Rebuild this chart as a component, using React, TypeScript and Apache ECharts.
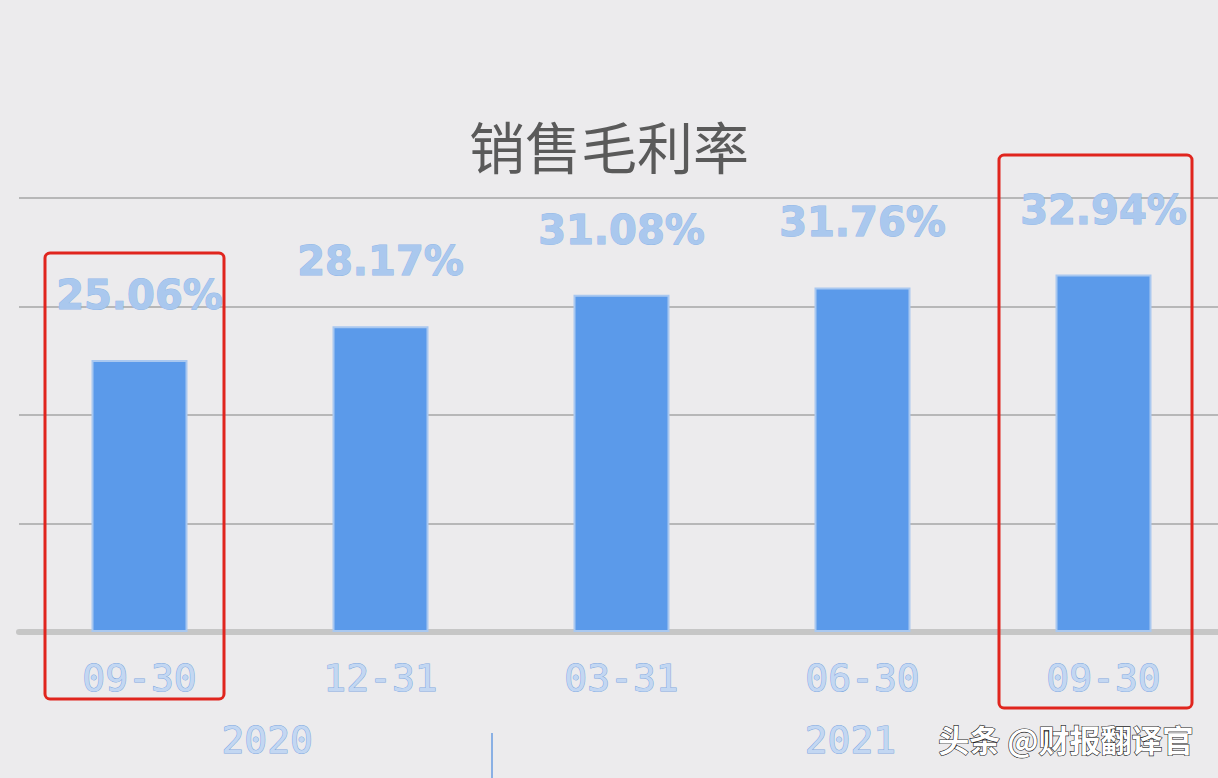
import { useEffect, useRef } from "react";
import * as echarts from "echarts";

const categories = ["09-30", "12-31", "03-31", "06-30", "09-30"];
const margins = [25.06, 28.17, 31.08, 31.76, 32.94];
const years = ["2020", "2021"];
// where the year labels and the divider sit on the 0..5 category scale
const yearPos = [1.03, 3.45];
const dividerPos = [1.96];

const App = () => {
    const chartRef = useRef<HTMLDivElement>(null);

    useEffect(() => {
        if (!chartRef.current) return;
        const chart = echarts.init(chartRef.current, undefined, { renderer: "svg" });

        const axisText = {
            fontFamily: "DejaVu Sans Mono",
            fontSize: 38,
            color: "#C3D7F2",
            textBorderColor: "#7FA8E0",
            textBorderWidth: 1,
        };

        chart.setOption({
            animation: false,
            backgroundColor: "#ECEBED",
            title: {
                text: "销售毛利率",
                left: "center",
                top: 116,
                padding: 0,
                textStyle: {
                    fontFamily: "Noto Sans CJK SC",
                    fontSize: 56,
                    fontWeight: "normal",
                    color: "#5A5A5A",
                },
            },
            grid: {
                left: 19,
                width: 1205,
                top: 198,
                bottom: 146,
                outerBoundsMode: "none",
            },
            xAxis: [
                {
                    type: "category",
                    data: categories,
                    axisLine: { lineStyle: { color: "#C6C6C6", width: 6 } },
                    axisTick: { show: false },
                    axisLabel: { margin: 27, ...axisText },
                },
                {
                    type: "value",
                    position: "bottom",
                    offset: 101,
                    min: 0,
                    max: 5,
                    axisLine: { show: false },
                    splitLine: { show: false },
                    axisTick: {
                        show: true,
                        customValues: dividerPos,
                        length: 45,
                        lineStyle: { color: "#8AB0E4", width: 2 },
                    },
                    axisLabel: {
                        customValues: yearPos,
                        margin: -12,
                        formatter: (v: number) => years[yearPos.indexOf(v)] ?? "",
                        ...axisText,
                    },
                },
            ],
            yAxis: {
                type: "value",
                min: 0,
                max: 40,
                interval: 10,
                axisLabel: { show: false },
                axisLine: { show: false },
                axisTick: { show: false },
                splitLine: { lineStyle: { color: "#A6A6A6", width: 1.5 } },
            },
            series: [
                {
                    type: "bar",
                    data: margins,
                    barWidth: 96,
                    itemStyle: {
                        color: "#5B9AEA",
                        borderColor: "#A9C8F0",
                        borderWidth: 2,
                    },
                    label: {
                        show: true,
                        position: "top",
                        distance: 45,
                        formatter: (p: any) => `${p.value.toFixed(2)}%`,
                        fontFamily: "DejaVu Sans",
                        fontWeight: "bold",
                        fontSize: 40,
                        color: "#AAC8EE",
                        textBorderColor: "#93B8E8",
                        textBorderWidth: 1,
                    },
                },
            ],
            graphic: [
                {
                    type: "rect",
                    shape: { x: 45, y: 253, width: 179, height: 446, r: 5 },
                    style: { fill: "none", stroke: "#E0251E", lineWidth: 3 },
                    z: 10,
                },
                {
                    type: "rect",
                    shape: { x: 999, y: 155, width: 193, height: 553, r: 5 },
                    style: { fill: "none", stroke: "#E0251E", lineWidth: 3 },
                    z: 10,
                },
                {
                    type: "text",
                    right: 24,
                    top: 722,
                    style: {
                        text: "头条 @财报翻译官",
                        fontFamily: "Noto Sans CJK SC",
                        fontSize: 31,
                        fontWeight: "bold",
                        fill: "#FFFFFF",
                        stroke: "#1E1E1E",
                        lineWidth: 1.2,
                        shadowColor: "rgba(0,0,0,0.6)",
                        shadowBlur: 2,
                        shadowOffsetX: 1,
                        shadowOffsetY: 1,
                    },
                    z: 10,
                },
            ],
        });

        return () => {
            chart.dispose();
        };
    }, []);

    return (
        <div
            ref={chartRef}
            style={{
                position: "fixed",
                left: 0,
                top: 0,
                width: "1218px",
                height: "778px",
            }}
        />
    );
};

export default App;
